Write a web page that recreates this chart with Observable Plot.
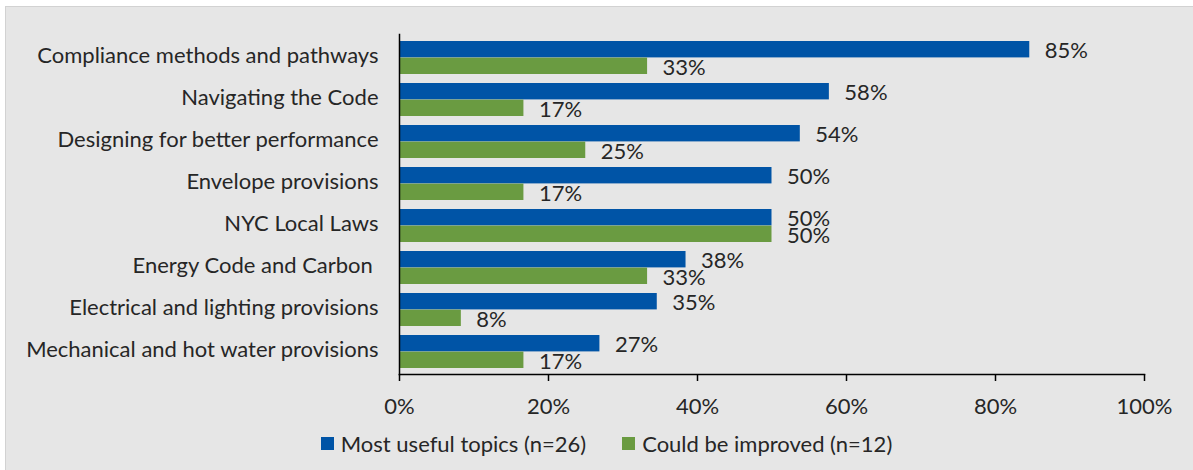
<!DOCTYPE html>
<html><head><meta charset="utf-8">
<script src="https://cdn.jsdelivr.net/npm/d3@7"></script>
<script src="https://cdn.jsdelivr.net/npm/@observablehq/plot@0.6"></script>
<style>
html,body{margin:0;padding:0;background:#fff;width:1193px;height:470px;overflow:hidden;}
#box{position:absolute;left:5px;top:6px;width:1188px;height:464px;background:#e6e6e6;border-left:1px solid #d2d2d2;border-top:1px solid #d2d2d2;}
#chart{position:absolute;left:0;top:0;}
#legend{position:absolute;left:0;top:430px;width:1213px;display:flex;justify-content:center;font-family:Lato,sans-serif;font-size:22px;color:#262626;}
.item{display:flex;align-items:center;margin:0 18px;}
.sw{width:13px;height:13px;margin-right:7px;}
</style></head><body><div id="box"></div><div id="chart"></div><div id="legend"></div>
<script>
const topics = [
  "Compliance methods and pathways",
  "Navigating the Code",
  "Designing for better performance",
  "Envelope provisions",
  "NYC Local Laws",
  "Energy Code and Carbon ",
  "Electrical and lighting provisions",
  "Mechanical and hot water provisions"
];
const useful = [84.6, 57.7, 53.8, 50, 50, 38.46, 34.6, 26.9];
const improved = [33.3, 16.7, 25, 16.7, 50, 33.3, 8.3, 16.7];
const seriesNames = ["Most useful topics (n=26)", "Could be improved (n=12)"];
const seriesColors = ["#0054a6", "#6a9b41"];
const xTicks = [0, 20, 40, 60, 80, 100];

const usefulData = topics.map((t, i) => ({topic: t, series: seriesNames[0], value: useful[i]}));
const improvedData = topics.map((t, i) => ({topic: t, series: seriesNames[1], value: improved[i]}));
const pct = d => Math.round(d.value) + "%";

const chart = Plot.plot({
  width: 1193, height: 418,
  marginLeft: 399, marginRight: 49, marginTop: 34, marginBottom: 44,
  style: {background: "transparent", fontFamily: "Lato, sans-serif", fontSize: "22px", color: "#262626", overflow: "visible"},
  x: {domain: [0, 100]},
  y: {domain: topics, paddingInner: 0.22, paddingOuter: 0.11},
  color: {domain: seriesNames, range: seriesColors},
  marks: [
    Plot.barX(usefulData, {x: "value", y: "topic", fill: "series", insetBottom: 16.6}),
    Plot.barX(improvedData, {x: "value", y: "topic", fill: "series", insetTop: 16.6}),
    Plot.text(usefulData, {x: "value", y: "topic", text: pct, textAnchor: "start", dx: 15, dy: -7.5, fill: "#262626"}),
    Plot.text(improvedData, {x: "value", y: "topic", text: pct, textAnchor: "start", dx: 15, dy: 9.5, fill: "#262626"}),
    Plot.frame({anchor: "left", stroke: "#000", strokeWidth: 1.5}),
    Plot.frame({anchor: "bottom", stroke: "#000", strokeWidth: 1.5}),
    Plot.axisX({ticks: xTicks, tickFormat: d => d + "%", tickSize: 7, tickPadding: 17, label: null, stroke: "#000", strokeWidth: 1.5, fill: "#262626"}),
    Plot.axisY({tickSize: 0, tickPadding: 21, dy: -2, label: null, fill: "#262626"})
  ]
});
document.getElementById("chart").appendChild(chart);

const legend = document.getElementById("legend");
seriesNames.forEach((name, i) => {
  const item = document.createElement("div");
  item.className = "item";
  const sw = document.createElement("div");
  sw.className = "sw";
  sw.style.background = seriesColors[i];
  const label = document.createElement("span");
  label.textContent = name;
  item.appendChild(sw);
  item.appendChild(label);
  legend.appendChild(item);
});
</script>
</body></html>
